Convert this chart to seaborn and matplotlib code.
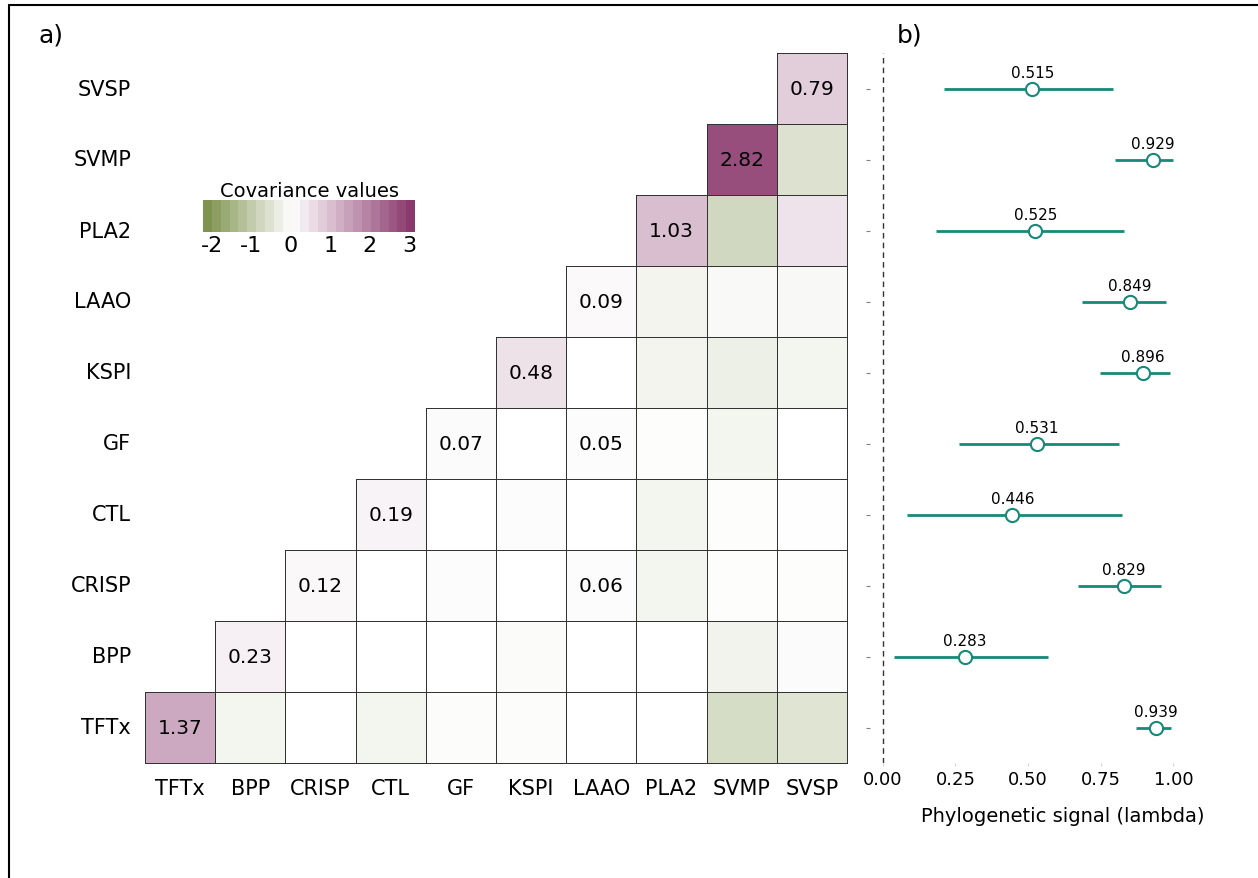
import numpy as np
import pandas as pd
import seaborn as sns
import matplotlib.pyplot as plt
from matplotlib.colors import LinearSegmentedColormap, Normalize, to_rgba
from matplotlib.cm import ScalarMappable
from matplotlib.lines import Line2D

toxins = ["TFTx", "BPP", "CRISP", "CTL", "GF", "KSPI", "LAAO", "PLA2", "SVMP", "SVSP"]

# upper triangle of the covariance matrix, each row starts on the diagonal
cov_tftx = [1.37, -0.20, 0.00, -0.20, -0.06, -0.06, 0.00, 0.00, -0.70, -0.55]
cov_bpp = [0.23, 0.01, 0.00, 0.00, -0.08, 0.01, 0.00, -0.25, 0.08]
cov_crisp = [0.12, 0.01, 0.04, 0.01, 0.06, -0.20, -0.04, -0.04]
cov_ctl = [0.19, 0.00, 0.06, 0.00, -0.20, -0.03, -0.01]
cov_gf = [0.07, 0.00, 0.05, -0.03, -0.20, 0.01]
cov_kspi = [0.48, 0.00, -0.22, -0.30, -0.20]
cov_laao = [0.09, -0.22, -0.10, -0.12]
cov_pla2 = [1.03, -0.80, 0.45]
cov_svmp = [2.82, -0.60]
cov_svsp = [0.79]
cov_rows = [cov_tftx, cov_bpp, cov_crisp, cov_ctl, cov_gf,
            cov_kspi, cov_laao, cov_pla2, cov_svmp, cov_svsp]

# off-diagonal cells that carry a printed value (row, col)
extra_labels = [("CRISP", "LAAO"), ("GF", "LAAO")]

# phylogenetic signal per toxin (same order as toxins)
lambda_est = [0.939, 0.283, 0.829, 0.446, 0.531, 0.896, 0.849, 0.525, 0.929, 0.515]
lambda_lo = [0.871, 0.040, 0.673, 0.083, 0.264, 0.748, 0.687, 0.184, 0.798, 0.211]
lambda_hi = [0.991, 0.569, 0.958, 0.822, 0.813, 0.988, 0.975, 0.831, 0.998, 0.793]

W, H = 1258, 879
VMIN, VMAX = -2.23, 3.15
TEAL = "#168a78"

sns.set_style("white")
plt.rcParams["font.family"] = ["DejaVu Sans"]
plt.rcParams["axes.unicode_minus"] = False
for k in ["text.color", "axes.labelcolor", "xtick.labelcolor", "ytick.labelcolor"]:
    plt.rcParams[k] = "black"

# build matrix, top row = SVSP
order = toxins[::-1]
mat = pd.DataFrame(np.nan, index=order, columns=toxins)
annot = pd.DataFrame("", index=order, columns=toxins)
for i, (name, vals) in enumerate(zip(toxins, cov_rows)):
    for k, v in enumerate(vals):
        mat.loc[name, toxins[i + k]] = v
    annot.loc[name, name] = f"{vals[0]:.2f}"
for r, c in extra_labels:
    annot.loc[r, c] = f"{mat.loc[r, c]:.2f}"

mid = (0 - VMIN) / (VMAX - VMIN)
cmap = LinearSegmentedColormap.from_list(
    "cov", [(0, "#7f9350"), (mid, "#ffffff"), (1, "#8b3a6e")])

fig = plt.figure(figsize=(W / 100, H / 100), dpi=100)

ax = fig.add_axes([145 / W, 1 - 764 / H, 702 / W, 710 / H])
sns.heatmap(mat, mask=mat.isna(), cmap=cmap, vmin=VMIN, vmax=VMAX,
            annot=annot.values, fmt="", annot_kws={"size": 14.5, "color": "black"},
            linewidths=0.6, linecolor="#333333", cbar=False, ax=ax)
# no cell borders on the empty lower triangle
mesh = ax.collections[0]
edge = np.array([to_rgba("#333333") if ok else (0, 0, 0, 0)
                 for ok in mat.notna().values.ravel()])
mesh.set_edgecolor(edge)
mesh.set_clip_on(False)
ax.set_xlabel("")
ax.set_ylabel("")
ax.tick_params(axis="both", length=0, labelsize=15)
ax.tick_params(axis="y", pad=10)
ax.tick_params(axis="x", pad=11)
plt.setp(ax.get_yticklabels(), rotation=0)
plt.setp(ax.get_xticklabels(), rotation=0)

# colour legend
cax = fig.add_axes([203 / W, 1 - 233 / H, 212 / W, 32 / H])
sm = ScalarMappable(norm=Normalize(VMIN, VMAX), cmap=cmap.resampled(24))
cb = fig.colorbar(sm, cax=cax, orientation="horizontal", ticks=[-2, -1, 0, 1, 2, 3])
cb.outline.set_visible(False)
cax.tick_params(direction="in", color="white", length=5, width=1,
                top=True, bottom=True, labelsize=16, pad=2)
cax.set_title("Covariance values", fontsize=14, pad=3)

# phylogenetic signal panel
ax2 = fig.add_axes([870 / W, 1 - 764 / H, (1256 - 870) / W, 710 / H])
ypos = [order.index(t) + 0.5 for t in toxins]
ax2.axvline(0, color="#333333", lw=1, ls=(0, (4, 3)))
ax2.hlines(ypos, lambda_lo, lambda_hi, color=TEAL, lw=2, zorder=2)
sns.scatterplot(x=lambda_est, y=ypos, ax=ax2, marker="o", s=90,
                facecolor="white", edgecolor=TEAL, linewidth=1.5, zorder=3)
for v, y in zip(lambda_est, ypos):
    ax2.annotate(f"{v:.3f}", (v, y), xytext=(0, 6), textcoords="offset points",
                 ha="center", va="bottom", fontsize=11)
ax2.set_ylim(10, 0)
ax2.set_xlim(-0.0437, 1.284)
ax2.set_yticks(np.arange(10) + 0.5)
ax2.set_yticklabels([])
ax2.set_xticks([0, 0.25, 0.5, 0.75, 1.0])
ax2.set_xticklabels(["0.00", "0.25", "0.50", "0.75", "1.00"])
ax2.tick_params(axis="y", length=3, color="grey", left=True)
ax2.tick_params(axis="x", length=2, color="lightgrey", labelsize=13, pad=3, bottom=True)
ax2.set_xlabel("Phylogenetic signal (lambda)", fontsize=14, labelpad=13)
sns.despine(ax=ax2, left=True, bottom=True)

fig.text(38 / W, 1 - 35 / H, "a)", fontsize=18, va="center")
fig.text(897 / W, 1 - 35 / H, "b)", fontsize=18, va="center")
fig.add_artist(Line2D([9 / W, 9 / W], [0, 1 - 6 / H], color="black", lw=1.5))
fig.add_artist(Line2D([9 / W, 1], [1 - 6 / H, 1 - 6 / H], color="black", lw=1.5))

fig.savefig("out.png", dpi=100)
